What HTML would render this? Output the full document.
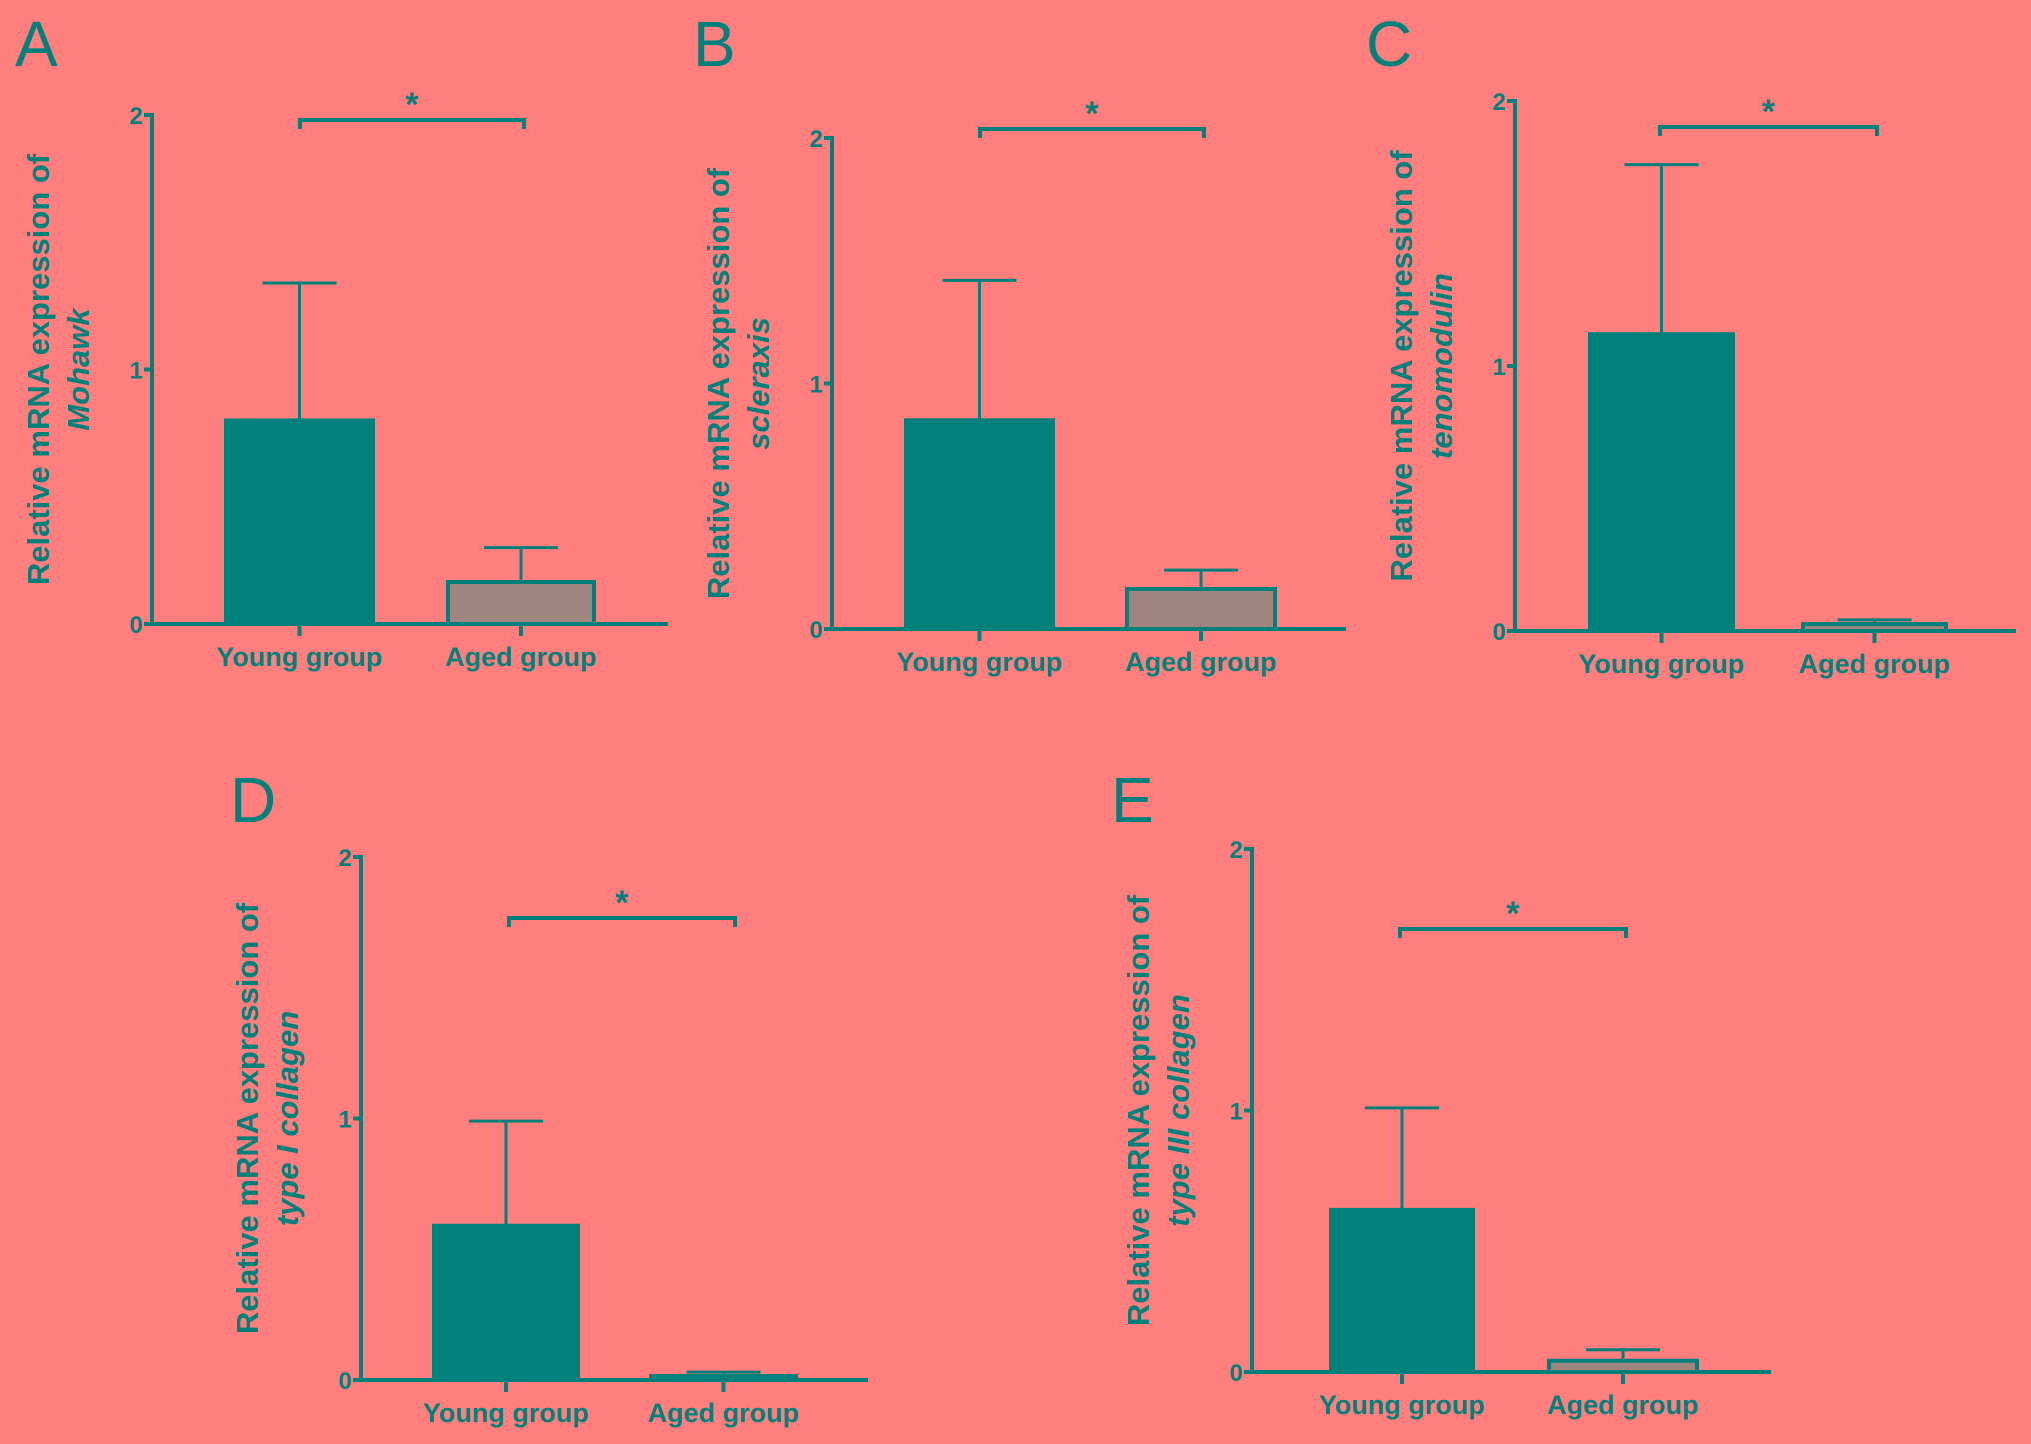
<!DOCTYPE html>
<html><head><meta charset="utf-8"><style>
html,body{margin:0;padding:0;background:#FF7F7F;}
svg{display:block;font-family:"Liberation Sans",Arial,sans-serif;}
</style></head><body>
<svg id="fig" width="2031" height="1444" viewBox="0 0 2031 1444" xmlns="http://www.w3.org/2000/svg">
<rect width="2031" height="1444" fill="#FF7F7F"/>
</svg>
<script>
const categories = ["Young group", "Aged group"];
const panelLetters = ["A", "B", "C", "D", "E"];
const geneNames = ["Mohawk", "scleraxis", "tenomodulin", "type I collagen", "type III collagen"];
const youngMeans = [0.80, 0.85, 1.12, 0.59, 0.62];
const youngErr = [1.34, 1.42, 1.76, 0.99, 1.01];
const agedMeans = [0.165, 0.163, 0.026, 0.015, 0.043];
const agedErr = [0.30, 0.24, 0.042, 0.03, 0.085];
const yTicks = [0, 1, 2];
const sigLabel = "*";

// layout (pixels, not data)
const layouts = [
  {ax:152, y0:624, y2:115, xe:668, b:[[224,375],[446,596]], br:[300,524,120], L:[15,66]},
  {ax:832, y0:629, y2:138, xe:1346, b:[[904,1055],[1125,1277]], br:[980,1204,129], L:[693,66]},
  {ax:1515, y0:631, y2:101, xe:2016, b:[[1588,1735],[1801,1948]], br:[1660,1877,127], L:[1366,66]},
  {ax:361, y0:1380, y2:857, xe:868, b:[[432,580],[649,798]], br:[509,735,918], L:[230,822]},
  {ax:1252, y0:1372, y2:849, xe:1771, b:[[1329,1475],[1547,1699]], br:[1400,1626,929], L:[1111,822]}
];
const TEAL = "#00807A", AGED = "#A0857E";
const svg = document.getElementById("fig");
const NS = "http://www.w3.org/2000/svg";
function mk(tag, attrs, parent){
  const e = document.createElementNS(NS, tag);
  for (const k in attrs) e.setAttribute(k, attrs[k]);
  (parent||svg).appendChild(e);
  return e;
}
layouts.forEach((P, i) => {
  const g = mk("g", {});
  
  
  const yS = v => P.y0 - (v / 2) * (P.y0 - P.y2);
  const lt = mk("text", {x:P.L[0], y:P.L[1], "font-size":64, fill:TEAL}, g);
  lt.textContent = panelLetters[i];
  
  
  const ya = mk("line", {x1:P.ax, y1:P.y2-2, x2:P.ax, y2:P.y0+2, stroke:TEAL, "stroke-width":4}, g);
  
  
  yTicks.forEach(t => {
    const y = yS(t);
    const tk = mk("line", {x1:P.ax-8, y1:y, x2:P.ax, y2:y, stroke:TEAL, "stroke-width":4}, g);
    
    
    const tl = mk("text", {x:P.ax-9, y:y+9, "font-size":24, "font-weight":"bold", fill:TEAL, "text-anchor":"end"}, g);
    tl.textContent = t;
    
    
  });
  const cy = (P.y0 + P.y2) / 2;
  const tt = mk("text", {transform:`translate(${P.ax-103},${cy}) rotate(-90)`, "font-size":31, "font-weight":"bold", fill:TEAL, "text-anchor":"middle"}, g);
  tt.textContent = "Relative mRNA expression of";
  
  
  const t2 = mk("text", {transform:`translate(${P.ax-63},${cy}) rotate(-90)`, "font-size":31, "font-weight":"bold", "font-style":"italic", fill:TEAL, "text-anchor":"middle"}, g);
  t2.textContent = geneNames[i];
  
  
  const means = [youngMeans[i], agedMeans[i]], errs = [youngErr[i], agedErr[i]];
  categories.forEach((c, j) => {
    const [x1, x2] = P.b[j], cx = (x1 + x2) / 2;
    const top = yS(means[j]);
    const eb = mk("line", {x1:cx, y1:yS(errs[j]), x2:cx, y2:top, stroke:TEAL, "stroke-width":3}, g);
    
    
    const cap = mk("line", {x1:cx-37, y1:yS(errs[j]), x2:cx+37, y2:yS(errs[j]), stroke:TEAL, "stroke-width":3}, g);
    
    
    const r = mk("rect", {x:x1+2, y:top, width:x2-x1-4, height:Math.max(P.y0-top,1), fill:j===0?TEAL:AGED, stroke:TEAL, "stroke-width":4}, g);
    
    
    const xt = mk("line", {x1:cx, y1:P.y0, x2:cx, y2:P.y0+12, stroke:TEAL, "stroke-width":4}, g);
    
    
    const xl = mk("text", {x:cx, y:P.y0+42, "font-size":27, "font-weight":"bold", fill:TEAL, "text-anchor":"middle"}, g);
    xl.textContent = c;
    
    
  });
  const xa = mk("line", {x1:P.ax-2, y1:P.y0, x2:P.xe, y2:P.y0, stroke:TEAL, "stroke-width":4}, g);
  
  
  const [bx1, bx2, by] = P.br;
  const br = mk("path", {d:`M${bx1},${by+9} V${by} H${bx2} V${by+9}`, fill:"none", stroke:TEAL, "stroke-width":4}, g);
  
  
  const st = mk("text", {x:(bx1+bx2)/2, y:by-4, "font-size":34, "font-weight":"bold", fill:TEAL, "text-anchor":"middle"}, g);
  st.textContent = sigLabel;
  
  
});
</script>
</body></html>
